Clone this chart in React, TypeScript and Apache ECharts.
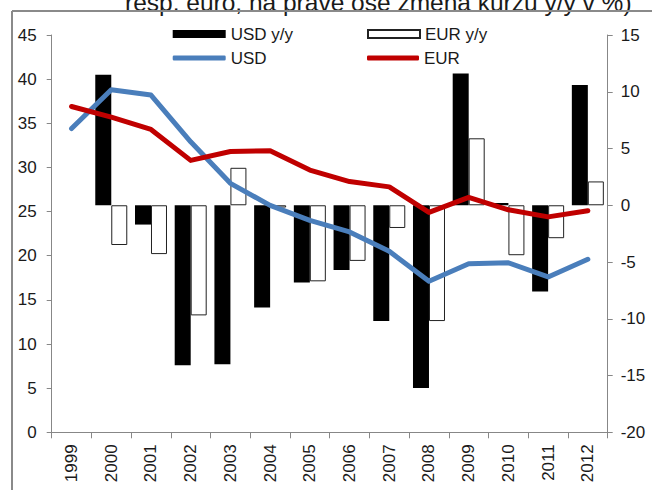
import React, { useEffect, useRef } from "react";
import * as echarts from "echarts";

const years = ["1999", "2000", "2001", "2002", "2003", "2004", "2005", "2006", "2007", "2008", "2009", "2010", "2011", "2012"];
const usdRate = [34.4, 38.8, 38.2, 32.9, 28.2, 25.7, 24.0, 22.7, 20.5, 17.1, 19.1, 19.2, 17.6, 19.6];
const eurRate = [36.9, 35.7, 34.3, 30.8, 31.8, 31.9, 29.7, 28.4, 27.8, 24.9, 26.6, 25.2, 24.4, 25.1];
const usdYoY = [null, 11.5, -1.7, -14.1, -14.0, -9.0, -6.8, -5.7, -10.2, -16.1, 11.6, 0.2, -7.6, 10.6];
const eurYoY = [null, -3.5, -4.3, -9.7, 3.3, -0.2, -6.7, -4.9, -2.0, -10.2, 5.9, -4.4, -2.9, 2.1];
const leftTicks = { min: 0, max: 45, interval: 5 };
const rightTicks = { min: -20, max: 15, interval: 5 };
const titleText = "resp. euro, na pravé ose změna kurzu y/y v %)";

const FONT = "'Liberation Sans', Arial, sans-serif";
const TXT = "#1a1a1a";
const AXIS = "#878787";
const BLUE = "#4A7EBB";
const RED = "#C00000";

export default function App() {
  const ref = useRef<HTMLDivElement>(null);
  useEffect(() => {
    if (!ref.current) return;
    const chart = echarts.init(ref.current, undefined, { renderer: "svg" });
    const legendBase = {
      orient: "horizontal",
      padding: 0,
      itemGap: 0,
      selectedMode: false,
      textStyle: { fontFamily: FONT, fontSize: 17, color: TXT },
    };
    chart.setOption({
      animation: false,
      backgroundColor: "#ffffff",
      graphic: [
        {
          type: "text",
          left: 125,
          top: -10,
          style: { text: titleText, font: `24.5px ${FONT}`, fill: TXT },
        },
        {
          type: "line",
          shape: { x1: 12, y1: 11, x2: 652, y2: 11 },
          style: { stroke: "#8a8a8a", lineWidth: 2 },
        },
        {
          type: "line",
          shape: { x1: 12, y1: 11, x2: 12, y2: 490 },
          style: { stroke: "#8a8a8a", lineWidth: 2 },
        },
      ],
      legend: [
        { ...legendBase, left: 172.7, top: 25.5, itemWidth: 53, itemHeight: 8, data: [{ name: "USD y/y", icon: "rect" }] },
        { ...legendBase, left: 367, top: 25.5, itemWidth: 52, itemHeight: 8, data: [{ name: "EUR y/y", icon: "rect" }] },
        { ...legendBase, left: 172.7, top: 49.5, itemWidth: 53, itemHeight: 5, data: [{ name: "USD", icon: "roundRect" }] },
        { ...legendBase, left: 367, top: 49.5, itemWidth: 52, itemHeight: 5, data: [{ name: "EUR", icon: "roundRect" }] },
      ],
      grid: { left: 51.7, right: 44.3, top: 35, bottom: 57.7, containLabel: false },
      xAxis: {
        type: "category",
        data: years,
        boundaryGap: true,
        axisLine: { show: true, onZero: false, lineStyle: { color: AXIS, width: 1 } },
        axisTick: { show: true, interval: 0, length: 6, lineStyle: { color: AXIS } },
        axisLabel: { interval: 0, rotate: 90, margin: 12, fontFamily: FONT, fontSize: 17, color: TXT },
        splitLine: { show: false },
      },
      yAxis: [
        {
          type: "value",
          position: "left",
          min: leftTicks.min,
          max: leftTicks.max,
          interval: leftTicks.interval,
          axisLine: { show: true, lineStyle: { color: AXIS, width: 1 } },
          axisTick: { show: true, length: 5, lineStyle: { color: AXIS } },
          axisLabel: { margin: 15, fontFamily: FONT, fontSize: 17, color: TXT },
          splitLine: { show: false },
        },
        {
          type: "value",
          position: "right",
          min: rightTicks.min,
          max: rightTicks.max,
          interval: rightTicks.interval,
          axisLine: { show: true, lineStyle: { color: AXIS, width: 1 } },
          axisTick: { show: true, length: 5, lineStyle: { color: AXIS } },
          axisLabel: { margin: 13, fontFamily: FONT, fontSize: 17, color: TXT },
          splitLine: { show: false },
        },
      ],
      series: [
        {
          name: "USD y/y",
          type: "bar",
          yAxisIndex: 1,
          data: usdYoY,
          barWidth: 16,
          barGap: "0%",
          itemStyle: { color: "#000000" },
        },
        {
          name: "EUR y/y",
          type: "bar",
          yAxisIndex: 1,
          data: eurYoY,
          barWidth: 16,
          barGap: "0%",
          itemStyle: { color: "#ffffff", borderColor: "#222222", borderWidth: 1 },
        },
        {
          name: "USD",
          type: "line",
          yAxisIndex: 0,
          data: usdRate,
          symbol: "none",
          showSymbol: false,
          itemStyle: { color: BLUE },
          lineStyle: { color: BLUE, width: 5, cap: "round", join: "round" },
        },
        {
          name: "EUR",
          type: "line",
          yAxisIndex: 0,
          data: eurRate,
          symbol: "none",
          showSymbol: false,
          itemStyle: { color: RED },
          lineStyle: { color: RED, width: 5, cap: "round", join: "round" },
        },
      ],
    });
    return () => chart.dispose();
  }, []);
  return <div ref={ref} style={{ position: "fixed", left: 0, top: 0, width: 652, height: 490 }} />;
}
